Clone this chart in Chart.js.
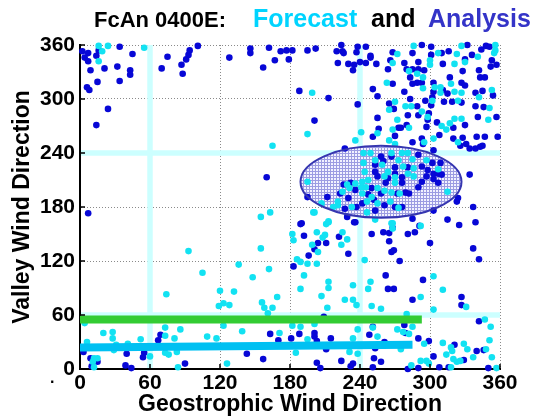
<!DOCTYPE html>
<html>
<head>
<meta charset="utf-8">
<script src="https://cdn.jsdelivr.net/npm/chart.js@4.4.1/dist/chart.umd.min.js"></script>
<style>
  html, body { margin: 0; padding: 0; background: #fff; }
  #wrap { width: 543px; height: 418px; }
</style>
</head>
<body>
<div id="wrap"><canvas id="chart" width="543" height="418"></canvas></div>
<script>
// Axis ticks (degrees)
const tickValues = [0, 60, 120, 180, 240, 300, 360];
// Light cyan guide crosses at these directions
const guideValues = [60, 240];

// Ellipse around the main cluster: centre and half-widths in degrees
const ellipseCenter = [258, 208];
const ellipseRadius = [69, 40];

// Thick fitted lines [geostrophic, valley]
const greenLine = [[0, 55], [293, 55]];
const blueLine = [[0, 24], [285, 27]];

// Analysis points (dark blue) [geostrophic, valley]
const analysis = [
  [2,353],[7,351],[4,346],[7,342],[14,348],[16,354],[34,358],[45,350],[9,332],[21,334],[32,336],[43,332],[43,327],[34,320],[15,319],[6,313],[8,310],[24,289],[14,271],[70,334],[75,347],[87,338],[88,328],[91,344],[93,349],[94,354],[101,359],[128,346],
  [146,356],[146,351],[162,357],[172,353],[177,354],[182,354],[167,343],[157,335],[179,344],[195,354],[202,356],[188,309],[213,301],[201,276],[160,213],
  [224,360],[220,353],[225,353],[226,351],[237,352],[238,358],[245,358],[249,348],[249,346],[268,352],[221,340],[230,339],[235,338],[234,332],[240,341],[245,340],[254,339],[266,343],[264,333],[268,317],[251,311],[255,303],[238,294],[265,295],[269,289],[255,279],[256,267],[270,259],[251,258],[273,268],
  [293,360],[301,358],[332,360],[348,359],[351,358],[285,351],[310,351],[316,353],[344,355],[336,349],[301,349],[330,344],[353,343],[278,340],[290,341],[311,339],[357,338],[352,336],[280,333],[285,333],[290,333],[295,332],[283,324],[342,332],[328,331],[317,324],[327,318],[330,315],[343,324],[347,324],[285,317],[289,318],[293,318],[303,318],[303,308],[311,310],[315,306],[278,308],[339,307],[345,309],[354,304],[283,300],[302,302],[296,298],[312,297],[319,297],[327,296],[289,292],[301,293],[339,292],[346,291],[281,282],[290,282],[299,284],[298,277],[357,280],[341,280],[306,274],[280,271],[297,269],[320,268],[330,271],[275,268],[328,257],[293,256],[308,260],[320,256],[340,258],[347,258],[358,258],[285,252],
  [326,248],[331,250],[334,245],[339,245],[343,247],[345,248],[227,245],[294,250],[303,243],
  [258,236],[267,236],[290,238],[302,229],[309,229],[260,231],[253,227],[270,224],[281,224],[293,225],[298,221],[253,219],[270,217],[303,217],[307,217],[310,216],[255,214],[264,212],[276,213],[297,214],[303,211],[307,207],[262,207],[276,207],[290,202],[293,208],[226,205],[232,207],[223,195],[236,199],[250,201],[258,195],[272,195],[279,196],[282,195],[212,191],[230,190],[247,194],[242,184],[252,188],[261,182],[227,178],[237,180],[270,180],[276,180],[253,176],[195,191],[190,162],[285,167],[236,163],[291,159],[229,169],[315,166],[325,160],[323,186],[324,190],[334,216],
  [189,161],[192,148],[201,133],[204,140],[196,126],[211,140],[222,147],[230,128],[235,163],[250,150],[183,114],[209,58],[163,39],[170,32],[143,17],[157,11],[181,34],[188,39],[201,40],[201,36],[203,31],[211,22],[215,34],[203,7],[206,1],[224,9],[232,3],[234,6],[248,38],[253,23],[251,2],[251,47],
  [7,173],[3,19],[9,12],[15,8],[10,3],[40,17],[39,4],[44,1],[55,18],[54,13],[67,32],[69,38],[90,6],
  [260,152],[265,151],[268,157],[265,142],[267,130],[269,132],[274,120],[281,150],[287,152],[300,140],[337,180],[339,163],[337,134],[342,122],[262,104],[264,89],[269,89],[285,77],[294,99],[327,80],[327,71],[342,53],[278,49],[290,34],[299,31],[279,40],[252,12],[258,8],[281,0],[290,1],[303,14],[308,2],[316,2],[321,27],[329,10],[340,20],[346,21],[350,1],[303,176],[261,30]
];

// Forecast points (cyan) [geostrophic, valley]
const forecast = [
  [16,359],[24,359],[19,353],[16,342],[55,357],
  [199,307],[195,261],[165,248],
  [272,350],[268,340],[263,318],[270,297],[265,288],[272,277],[268,266],[241,263],[255,262],[236,254],[265,254],[270,250],
  [286,359],[327,359],[356,360],[356,354],[307,351],[323,350],[355,351],[341,347],[300,343],[330,341],[321,339],[300,338],[282,331],[289,328],[294,324],[318,317],[294,312],[304,313],[309,313],[309,307],[321,308],[327,307],[353,310],[342,302],[302,298],[324,298],[279,292],[284,292],[351,290],[293,286],[298,280],[321,278],[327,278],[350,277],[317,273],[282,268],[310,270],[314,266],[303,256],[295,252],[324,252],
  [243,240],[249,240],[267,240],[276,240],[281,240],[297,232],[253,232],[273,232],[285,233],[243,229],[259,227],[277,225],[286,223],[307,222],[244,219],[264,219],[281,217],[261,214],[270,213],[286,214],[242,208],[247,210],[270,207],[195,208],[229,205],[236,206],[225,197],[231,201],[241,202],[245,202],[255,201],[261,198],[267,196],[274,195],[315,197],[221,186],[242,195],[250,191],[246,186],[255,184],[266,186],[233,180],[221,182],[217,180],[273,179],[246,174],[207,184],[200,174],[213,163],[268,162],[253,166],
  [155,169],[163,174],[155,134],[136,116],[148,102],[162,111],[132,86],[123,73],[128,71],[156,74],[158,68],[161,62],[165,68],[169,80],[123,48],[139,42],[171,40],[126,6],[182,150],[183,143],[186,122],[189,119],[195,117],[203,117],[192,104],[189,89],[203,152],[201,174],[199,138],[204,130],[208,146],[210,149],[211,161],[213,164],[225,152],[229,144],[224,138],[213,97],[213,90],[207,81],[212,68],[227,77],[234,77],[237,71],[244,121],[249,97],[234,93],[250,70],[238,44],[234,34],[238,17],[231,19],[182,48],[189,47],[185,18],[201,50],[195,33],[255,27],[255,36],[251,46],
  [93,131],[105,107],[74,83],[120,87],[119,70],[4,51],[6,30],[20,40],[28,41],[28,34],[31,27],[41,28],[29,21],[12,12],[15,12],[11,8],[12,2],[52,33],[60,14],[73,46],[73,37],[73,18],[76,16],[81,34],[86,44],[83,19],[84,2],[109,36],[117,34],
  [267,162],[268,156],[292,159],[247,89],[258,67],[292,80],[303,103],[311,88],[303,66],[331,69],[272,44],[277,41],[282,39],[285,47],[275,22],[295,28],[292,9],[297,9],[284,4],[299,6],[311,29],[314,16],[318,24],[319,20],[320,11],[323,8],[326,9],[329,28],[332,22],[337,13],[348,22],[351,32],[352,47],[347,55],[353,13],[357,1],[318,2],[280,61]
];

const BOLD = '"Liberation Sans", Arial, Helvetica, sans-serif';

function toPoints(list) {
  return list.map(p => ({ x: p[0], y: p[1] }));
}

// hatch pattern for the ellipse
function gridPattern(ctx) {
  const pc = document.createElement('canvas');
  pc.width = 3; pc.height = 3;
  const p = pc.getContext('2d');
  p.fillStyle = '#f2f2ff';
  p.fillRect(0, 0, 3, 3);
  p.fillStyle = '#9c9ce2';
  p.fillRect(0, 0, 3, 1);
  p.fillRect(0, 0, 1, 3);
  return ctx.createPattern(pc, 'repeat');
}

function ellipseGeom(chart) {
  const xs = chart.scales.x, ys = chart.scales.y;
  const cx = xs.getPixelForValue(ellipseCenter[0]);
  const cy = ys.getPixelForValue(ellipseCenter[1]);
  const rx = xs.getPixelForValue(ellipseCenter[0] + ellipseRadius[0]) - cx;
  const ry = cy - ys.getPixelForValue(ellipseCenter[1] + ellipseRadius[1]);
  return { cx, cy, rx, ry };
}

const decorPlugin = {
  id: 'decor',
  beforeDatasetsDraw(chart) {
    const { ctx, chartArea: a } = chart;
    const xs = chart.scales.x, ys = chart.scales.y;
    ctx.save();
    ctx.beginPath();
    ctx.rect(a.left + 1, a.top, a.right - a.left - 1, a.bottom - a.top - 1);
    ctx.clip();
    // guide crosses
    ctx.strokeStyle = '#ccffff';
    ctx.lineWidth = 5.5;
    guideValues.forEach(v => {
      const px = xs.getPixelForValue(v);
      ctx.beginPath(); ctx.moveTo(px, a.top); ctx.lineTo(px, a.bottom); ctx.stroke();
      const py = ys.getPixelForValue(v);
      ctx.beginPath(); ctx.moveTo(a.left, py); ctx.lineTo(a.right, py); ctx.stroke();
    });
    // ellipse fill
    const e = ellipseGeom(chart);
    ctx.beginPath();
    ctx.ellipse(e.cx, e.cy, e.rx, e.ry, 0, 0, Math.PI * 2);
    ctx.fillStyle = gridPattern(ctx);
    ctx.fill();
    ctx.restore();
  },
  afterDatasetsDraw(chart) {
    const { ctx, chartArea: a } = chart;
    const xs = chart.scales.x, ys = chart.scales.y;
    ctx.save();
    const e = ellipseGeom(chart);
    ctx.beginPath();
    ctx.ellipse(e.cx, e.cy, e.rx, e.ry, 0, 0, Math.PI * 2);
    ctx.strokeStyle = '#3636b0';
    ctx.lineWidth = 2;
    ctx.stroke();
    // small inward tick marks
    ctx.strokeStyle = '#000';
    ctx.lineWidth = 1.5;
    tickValues.forEach(v => {
      const px = xs.getPixelForValue(v);
      ctx.beginPath(); ctx.moveTo(px, a.bottom); ctx.lineTo(px, a.bottom - 5); ctx.stroke();
      const py = ys.getPixelForValue(v);
      ctx.beginPath(); ctx.moveTo(a.left, py); ctx.lineTo(a.left + 5, py); ctx.stroke();
    });
    ctx.restore();
  },
  afterDraw(chart) {
    const ctx = chart.ctx;
    ctx.save();
    ctx.textBaseline = 'alphabetic';
    ctx.textAlign = 'left';
    const parts = [
      ['FcAn 0400E:', '#000000', 22, 94],
      ['Forecast', '#00d4ff', 25, 253],
      ['and', '#000000', 25, 371],
      ['Analysis', '#3434c8', 25, 428]
    ];
    parts.forEach(p => {
      ctx.font = 'bold ' + p[2] + 'px ' + BOLD;
      ctx.fillStyle = p[1];
      ctx.fillText(p[0], p[3], 27);
    });
    ctx.font = 'bold 16px ' + BOLD;
    ctx.fillStyle = '#000';
    ctx.fillText('.', 50, 383);
    ctx.restore();
  }
};

new Chart(document.getElementById('chart'), {
  type: 'scatter',
  data: {
    datasets: [
      {
        type: 'line',
        label: 'green',
        data: toPoints(greenLine),
        borderColor: '#33cc33',
        borderWidth: 8,
        borderCapStyle: 'butt',
        pointRadius: 0,
        fill: false,
        order: 0
      },
      {
        type: 'line',
        label: 'blue',
        data: toPoints(blueLine),
        borderColor: '#00c0f2',
        borderWidth: 8,
        borderCapStyle: 'butt',
        pointRadius: 0,
        fill: false,
        order: 0
      },
      {
        label: 'Forecast',
        data: toPoints(forecast),
        backgroundColor: '#12e2f2',
        borderWidth: 0,
        pointRadius: 3.3,
        clip: false,
        order: 1
      },
      {
        label: 'Analysis',
        data: toPoints(analysis),
        backgroundColor: '#0707d6',
        borderWidth: 0,
        pointRadius: 3.3,
        clip: false,
        order: 2
      }
    ]
  },
  options: {
    responsive: false,
    animation: false,
    events: [],
    devicePixelRatio: 1,
    layout: { padding: { top: 45, right: 43, left: 0, bottom: 0 } },
    plugins: {
      legend: { display: false },
      tooltip: { enabled: false },
      title: { display: false }
    },
    scales: {
      x: {
        type: 'linear',
        min: 0,
        max: 360,
        afterFit(scale) { scale.height = 49; },
        afterBuildTicks(scale) { scale.ticks = tickValues.map(v => ({ value: v })); },
        ticks: {
          color: '#000',
          padding: 2,
          maxRotation: 0,
          font: { family: BOLD, size: 21, weight: 'bold' }
        },
        grid: { color: '#8a8a8a', lineWidth: 1, drawTicks: false },
        border: { display: true, color: '#000', width: 2, dash: [1, 2] },
        title: {
          display: true,
          text: 'Geostrophic Wind Direction',
          color: '#000',
          padding: { top: 0, bottom: 0 },
          font: { family: BOLD, size: 23, weight: 'bold' }
        }
      },
      y: {
        type: 'linear',
        min: 0,
        max: 360,
        afterFit(scale) { scale.width = 80; },
        afterBuildTicks(scale) { scale.ticks = tickValues.map(v => ({ value: v })); },
        ticks: {
          color: '#000',
          padding: 5,
          font: { family: BOLD, size: 21, weight: 'bold' }
        },
        grid: { color: '#8a8a8a', lineWidth: 1, drawTicks: false },
        border: { display: true, color: '#000', width: 2, dash: [1, 2] },
        title: {
          display: true,
          text: 'Valley Wind Direction',
          color: '#000',
          padding: { top: 9, bottom: 0 },
          font: { family: BOLD, size: 23, weight: 'bold' }
        }
      }
    }
  },
  plugins: [decorPlugin]
});
</script>
</body>
</html>
